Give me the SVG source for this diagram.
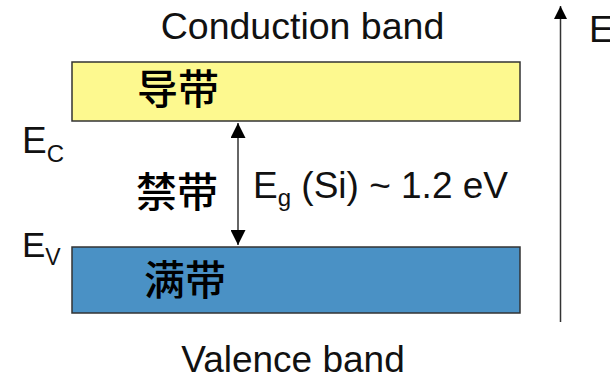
<svg xmlns="http://www.w3.org/2000/svg" width="610" height="380" viewBox="0 0 610 380">
  <style>
    .lat { font-family: "Liberation Sans", Arial, sans-serif; fill: #111; }
    .cjk { font-family: "Noto Sans CJK SC", sans-serif; font-weight: 500; fill: #000; font-size: 41px; }
    .band { stroke: #333; stroke-width: 1.5; }
    .conn { stroke: #333; stroke-width: 1.5; fill: none; }
  </style>
  <defs>
    <marker id="tri" viewBox="0 0 10 10" refX="10" refY="5" markerUnits="userSpaceOnUse" markerWidth="15" markerHeight="15" orient="auto-start-reverse">
      <path d="M0,0 L10,5 L0,10 Z" fill="#000"/>
    </marker>
    <marker id="triE" viewBox="0 0 10 10" refX="10" refY="5" markerUnits="userSpaceOnUse" markerWidth="13" markerHeight="13" orient="auto">
      <path d="M0,0 L10,5 L0,10 Z" fill="#000"/>
    </marker>
  </defs>
  <rect width="610" height="380" fill="#fff"/>

  <g id="conduction-band">
    <rect class="band" x="72" y="62" width="448" height="59" fill="#fdf98f"/>
    <text class="cjk" x="137" y="104">导带</text>
    <text class="lat" x="302.5" y="39" font-size="37.5" text-anchor="middle">Conduction band</text>
  </g>

  <g id="valence-band">
    <rect class="band" x="72" y="247" width="448" height="66" fill="#4a91c5"/>
    <text class="cjk" x="144" y="295">满带</text>
    <text class="lat" x="293" y="372" font-size="37" text-anchor="middle">Valence band</text>
  </g>

  <g id="gap">
    <text class="cjk" x="136" y="207">禁带</text>
    <text class="lat" x="253" y="198" font-size="37">E<tspan font-size="24" dy="8">g</tspan><tspan dy="-8"> (Si) ~ 1.2 eV</tspan></text>
  </g>

  <g id="levels">
    <text class="lat" x="22" y="153" font-size="37">E<tspan font-size="24" dy="9">C</tspan></text>
    <text class="lat" x="22" y="257" font-size="35">E<tspan font-size="23" dy="8">V</tspan></text>
  </g>

  <g id="energy-axis">
    <text class="lat" x="589" y="42" font-size="37">E</text>
  </g>

  <g id="connectors">
    <line class="conn" x1="238" y1="123" x2="238" y2="245" marker-start="url(#tri)" marker-end="url(#tri)"/>
    <line class="conn" x1="560.5" y1="322" x2="560.5" y2="6" stroke-width="2" marker-end="url(#triE)"/>
  </g>
</svg>
